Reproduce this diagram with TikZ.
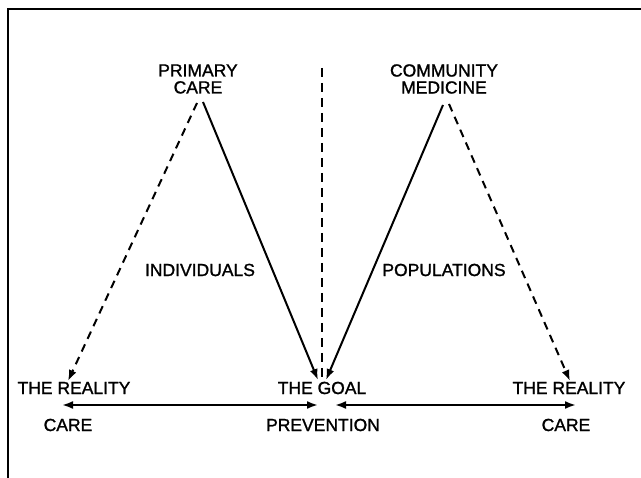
\documentclass[tikz,border=0pt]{standalone}
\usepackage{fontspec}
\setmainfont{Liberation Sans}
\newfontfamily\lblfont{Liberation Sans}[FakeBold=1.3]
\usetikzlibrary{arrows.meta}
\begin{document}
\begin{tikzpicture}[x=1pt,y=-1pt,
  lbl/.style={font=\lblfont\fontsize{17.5}{17}\selectfont, inner sep=0pt, align=center},
  tip/.tip={Latex[length=11pt,width=8pt]},
  conn/.style={line width=2pt, -tip},
  dconn/.style={conn, dash pattern=on 8pt off 6pt},
  vdash/.style={line width=1.4pt, dash pattern=on 9pt off 6pt},
  twoway/.style={line width=2pt, tip-tip},
  frame/.style={line width=2.4pt}]
\useasboundingbox (0,0) rectangle (641,478);
% frame
\coordinate (fb) at (8,478);
\coordinate (fc) at (8,9);
\coordinate (fr) at (641,9);
\draw[frame] (fb) -- (fc) -- (fr);
% labels
\node[lbl] (pc) at (198,79) {PRIMARY\\CARE};
\node[lbl] (cm) at (444,79) {COMMUNITY\\MEDICINE};
\node[lbl] (ind) at (200,270) {INDIVIDUALS};
\node[lbl] (pop) at (444,270) {POPULATIONS};
\node[lbl] (rl) at (74,388) {THE REALITY};
\node[lbl] (goal) at (322,388) {THE GOAL};
\node[lbl] (rr) at (569,388) {THE REALITY};
\node[lbl] (cl) at (68,425) {CARE};
\node[lbl] (prev) at (323,425) {PREVENTION};
\node[lbl] (cr) at (566,425) {CARE};
% connector end points
\coordinate (pcL) at (197,103);
\coordinate (pcR) at (203,102);
\coordinate (cmL) at (443,105);
\coordinate (cmR) at (449,104);
\coordinate (vTop) at (322,68);
\coordinate (vBot) at (322,380);
\coordinate (goalL) at (318,380);
\coordinate (goalR) at (326,380);
\coordinate (realL) at (68,381);
\coordinate (realR) at (570,381);
\coordinate (aL1) at (62,405);
\coordinate (aL2) at (318,405);
\coordinate (aR1) at (335,405);
\coordinate (aR2) at (576,405);
% connectors
\draw[vdash] (vTop) -- (vBot);
\draw[dconn] (pcL) -- (realL);
\draw[conn] (pcR) -- (goalL);
\draw[conn] (cmL) -- (goalR);
\draw[dconn] (cmR) -- (realR);
\draw[twoway] (aL1) -- (aL2);
\draw[twoway] (aR1) -- (aR2);
\end{tikzpicture}
\end{document}
